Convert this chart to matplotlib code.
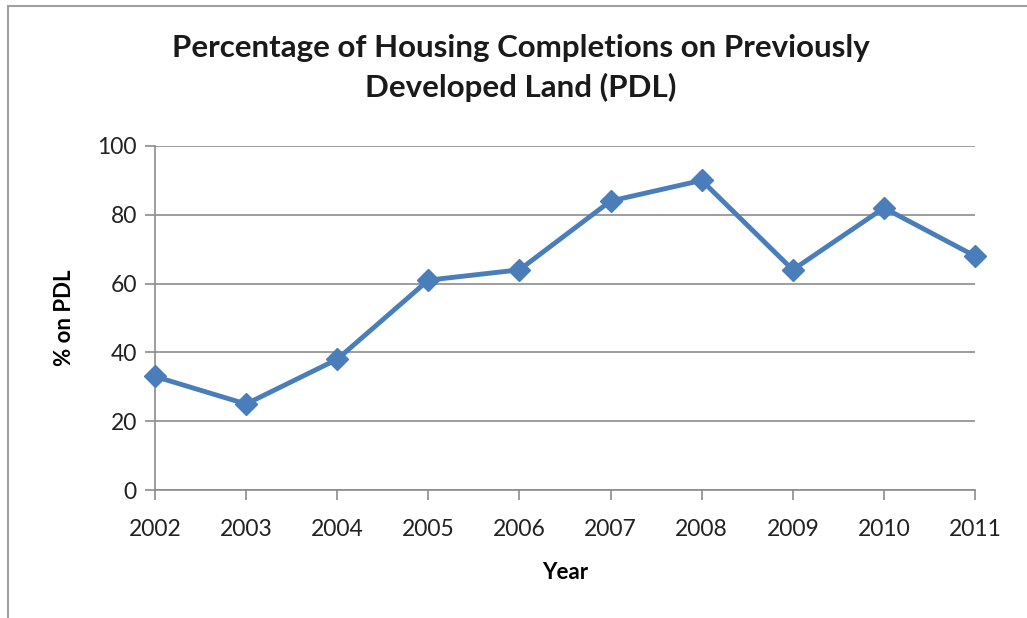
import matplotlib
matplotlib.use("Agg")
import matplotlib.pyplot as plt
from matplotlib.patches import Rectangle

years = ["2002", "2003", "2004", "2005", "2006", "2007", "2008", "2009", "2010", "2011"]
pct_pdl = [33, 25, 38, 61, 64, 84, 90, 64, 82, 68]

plt.rcParams["font.family"] = ["Lato", "DejaVu Sans"]

fig = plt.figure(figsize=(10.27, 6.18), dpi=100)
ax = fig.add_axes([0.1509, 0.2071, 0.7985, 0.5567])

# chart border like the spreadsheet frame
fig.patches.append(Rectangle((0.008, -0.05), 1.1, 1.04, transform=fig.transFigure,
                             fill=False, edgecolor="#a0a0a0", linewidth=1.5))

x = list(range(len(years)))
ax.plot(x, pct_pdl, color="#4a7ebb", linewidth=3.5, marker="D", markersize=11,
        markeredgecolor="#4a7ebb", zorder=3, clip_on=False)

ax.set_xlim(0, len(years) - 1)
ax.set_ylim(0, 100)
ax.set_yticks([0, 20, 40, 60, 80, 100])
ax.set_xticks(x)
ax.set_xticklabels(years)
ax.yaxis.grid(True, color="#8c8c8c", linewidth=1.2)
ax.set_axisbelow(True)
for s in ["top", "right"]:
    ax.spines[s].set_visible(False)
for s in ["left", "bottom"]:
    ax.spines[s].set_color("#8c8c8c")
    ax.spines[s].set_linewidth(1.2)
ax.tick_params(axis="both", colors="#8c8c8c", length=7, width=1.2, labelsize=16.5,
               labelcolor="#222222")
ax.tick_params(axis="x", pad=14)
ax.tick_params(axis="y", pad=6)

ax.set_xlabel("Year", fontsize=16, fontweight="bold", labelpad=16)
ax.set_ylabel("% on PDL", fontsize=16, fontweight="bold", labelpad=16)
fig.suptitle("Percentage of Housing Completions on Previously\nDeveloped Land (PDL)",
             x=0.507, y=0.945, fontsize=22.5, fontweight="bold", linespacing=1.45,
             color="#1a1a1a")

fig.savefig("out.png", dpi=100)
